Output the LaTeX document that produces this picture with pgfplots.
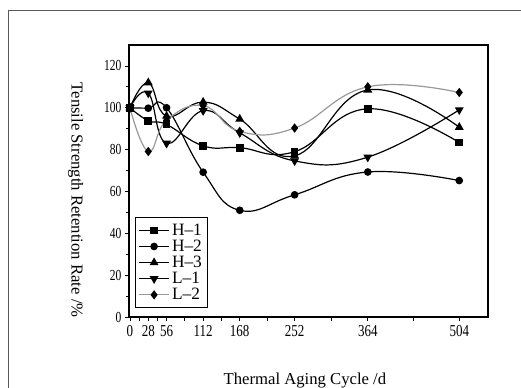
\documentclass[border=0pt]{standalone}
\usepackage{pgfplots}
\pgfplotsset{compat=1.18}
\usepackage{fontspec}
\setmainfont{Liberation Serif}
\begin{document}
\begin{tikzpicture}
\path[use as bounding box] (0,0) rectangle (390.75pt,291pt);
\draw[gray!70!black, line width=0.6pt] (6pt,-5pt) -- (6pt,283.5pt) -- (400pt,283.5pt);
\begin{axis}[
  at={(96.75pt,53.25pt)}, anchor=south west,
  scale only axis, width=269.25pt, height=204pt,
  xmin=-1.5, xmax=548, ymin=0, ymax=130,
  xtick={0,14,28,42,56,84,112,140,168,210,252,308,364,434,504},
  xticklabels={0,,28,,56,,112,,168,,252,,364,,504},
  ytick={0,20,40,60,80,100,120},
  minor y tick num=1,
  xtick pos=left, ytick pos=left, tick align=outside,
  major tick length=3pt, minor tick length=2.5pt,
  axis line style={line width=0.8pt},
  tick style={line width=0.6pt, black},
  /pgf/number format/assume math mode=true,
  xticklabel style={font=\fontsize{12.5}{14}\selectfont, xscale=0.78},
  yticklabel style={font=\fontsize{11.5}{13}\selectfont, xscale=0.75},
  xlabel={Thermal Aging Cycle /d},
  ylabel={Tensile Strength Retention Rate /\%},
  label style={font=\fontsize{12.5}{14}\selectfont},
  xlabel style={at={(axis description cs:0.49,0)}, anchor=center, yshift=-48pt},
  ylabel style={at={(axis description cs:-0.1486,0.43)}, anchor=center, rotate=180},
  legend style={at={(axis description cs:0.017,0.033)}, anchor=south west,
    font=\fontsize{13}{13}\selectfont, draw=black, line width=0.6pt,
    row sep=-2pt, inner sep=2.5pt},
  legend cell align=left,
  legend image code/.code={\draw[#1] (0pt,0pt) -- (22pt,0pt); \draw[#1, mark repeat=2, mark phase=2] plot coordinates {(0pt,0pt) (11pt,0pt) (22pt,0pt)};},
  every axis plot/.append style={line width=0.9pt, smooth, tension=0.75},
]
\addplot[black, mark=square*, mark size=2.4pt, mark options={solid}] coordinates {
(0,100) (28,93.8) (56,92) (112,81.8) (168,80.9) (252,79) (364,99.5) (504,83.4)};
\addlegendentry{H--1\hspace{9pt}}
\addplot[black, mark=*, mark size=2.4pt] coordinates {
(0,100) (28,99.8) (56,100) (112,69.2) (168,51) (252,58.4) (364,69.3) (504,65.2)};
\addlegendentry{H--2}
\addplot[black, mark=triangle*, mark size=3pt] coordinates {
(0,100) (28,112) (56,96) (112,102.7) (168,94.6) (252,77) (364,108.5) (504,90.7)};
\addlegendentry{H--3}
\addplot[black, mark=triangle*, mark size=3pt, mark options={rotate=180}] coordinates {
(0,100) (28,107) (56,83) (112,98.6) (168,88) (252,74.6) (364,76.4) (504,99)};
\addlegendentry{L--1}
\addplot[gray!80, mark=diamond*, mark size=2.8pt, mark options={fill=black, draw=black}] coordinates {
(0,100) (28,79.1) (56,94) (112,101) (168,88.7) (252,90.3) (364,110) (504,107.3)};
\addlegendentry{L--2}
\end{axis}
\end{tikzpicture}
\end{document}
